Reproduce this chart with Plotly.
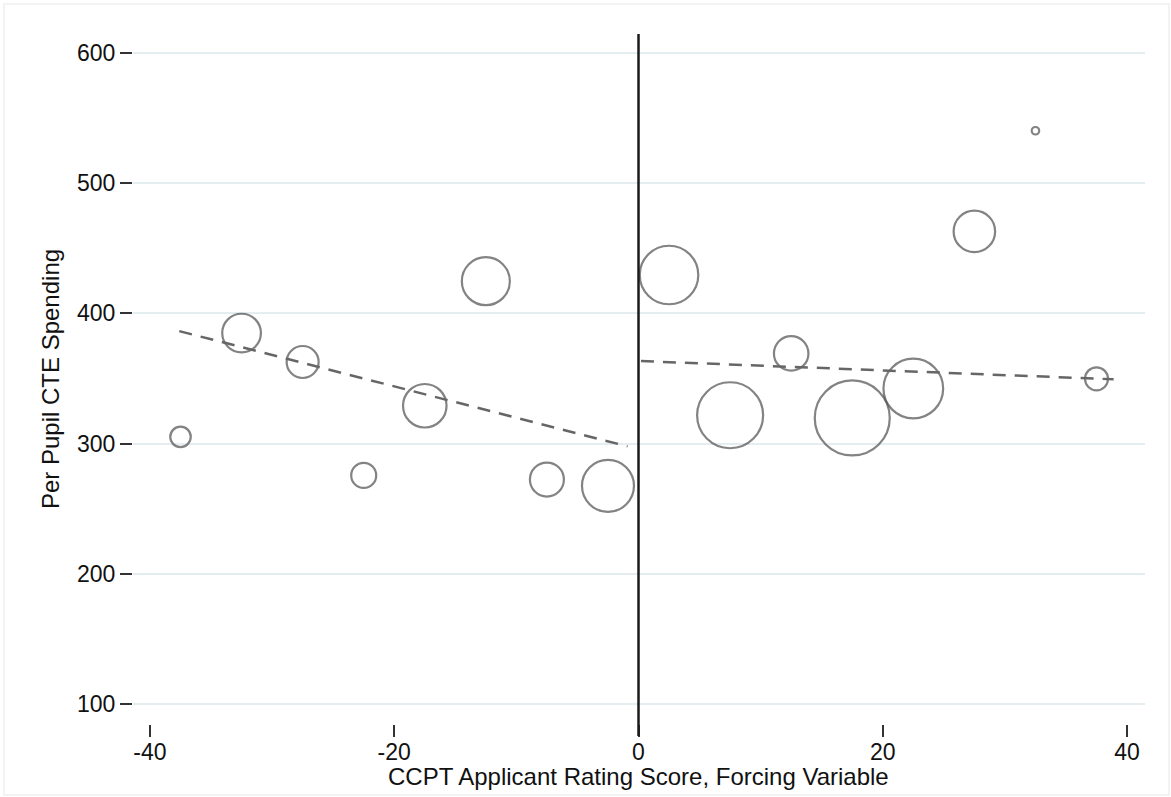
import plotly.graph_objects as go

# Binned scatter data
bin_x = [-37.5, -32.5, -27.5, -22.5, -17.5, -12.5, -7.5, -2.5,
         2.5, 7.5, 12.5, 17.5, 22.5, 27.5, 32.5, 37.5]
bin_y = [305.2, 384.9, 362.7, 275.6, 329.1, 424.8, 272.4, 267.6,
         429.5, 321.8, 369.3, 319.7, 342.3, 463.0, 540.3, 349.8]
bin_weight = [20.5, 38.7, 32, 25, 43.5, 48, 34, 52,
              58.5, 66, 34.5, 75, 59.7, 41.5, 7.5, 23]

# Linear fits on each side of the cutoff
fit_left_x = [-37.6, -0.9]
fit_left_y = [386.4, 297.9]
fit_right_x = [0.2, 38.9]
fit_right_y = [363.4, 349.4]

x_ticks = [-40, -20, 0, 20, 40]
y_ticks = [100, 200, 300, 400, 500, 600]

W, H = 1171, 797
ML, MR, MT, MB = 133, 26, 34, 73
plot_w = W - ML - MR
plot_h = H - MT - MB

fig = go.Figure()

fig.add_trace(go.Scatter(
    x=bin_x, y=bin_y, mode="markers",
    marker=dict(size=bin_weight, color="rgba(0,0,0,0)",
                line=dict(color="#4f4f4f", width=2.2)),
    showlegend=False, hoverinfo="x+y"))

for fx, fy in [(fit_left_x, fit_left_y), (fit_right_x, fit_right_y)]:
    fig.add_trace(go.Scatter(
        x=fx, y=fy, mode="lines",
        line=dict(color="#666666", width=2.5, dash="13px,9px"),
        showlegend=False, hoverinfo="skip"))

# cutoff line
fig.add_shape(type="line", xref="x", yref="paper", x0=0, x1=0,
              y0=-12 / plot_h, y1=1.0,
              line=dict(color="#1a1a1a", width=2.5), layer="above")

# outer light border of the graph region
fig.add_shape(type="rect", xref="paper", yref="paper",
              x0=(4 - ML) / plot_w, x1=(W - 2 - ML) / plot_w,
              y0=-(H - 2 - MT - plot_h) / plot_h, y1=1 + (MT - 4) / plot_h,
              line=dict(color="#f0f0f0", width=1.5), layer="below")

font = "Liberation Sans, Arial, sans-serif"

fig.add_annotation(text="CCPT Applicant Rating Score, Forcing Variable",
                   xref="paper", yref="paper", x=(638 - ML) / plot_w, y=0,
                   xanchor="center", yanchor="middle", yshift=-52,
                   showarrow=False, font=dict(size=24, family=font, color="#111111"))

fig.update_layout(
    width=W, height=H,
    margin=dict(l=ML, r=MR, t=MT, b=MB, autoexpand=False),
    paper_bgcolor="white", plot_bgcolor="white",
    font=dict(family=font, size=23, color="#111111"),
    xaxis=dict(range=[-41.39, 41.47], tickvals=x_ticks,
               ticktext=[str(v) for v in x_ticks],
               showgrid=False, zeroline=False, showline=False,
               ticks="outside", ticklen=12, tickwidth=1.5, tickcolor="#333333",
               tickfont=dict(size=23), ticklabelstandoff=-5),
    yaxis=dict(range=[84.66, 614.6], tickvals=y_ticks,
               ticktext=[str(v) for v in y_ticks],
               showgrid=True, gridcolor="#e4eef1", gridwidth=1.5,
               zeroline=False, showline=False,
               ticks="outside", ticklen=12, tickwidth=1.5, tickcolor="#333333",
               tickfont=dict(size=23),
               title=dict(text="Per Pupil CTE Spending",
                          font=dict(size=24), standoff=10)),
)

fig.write_html("out.html", config={"displayModeBar": False},
               post_script="document.body.style.margin='0';")
